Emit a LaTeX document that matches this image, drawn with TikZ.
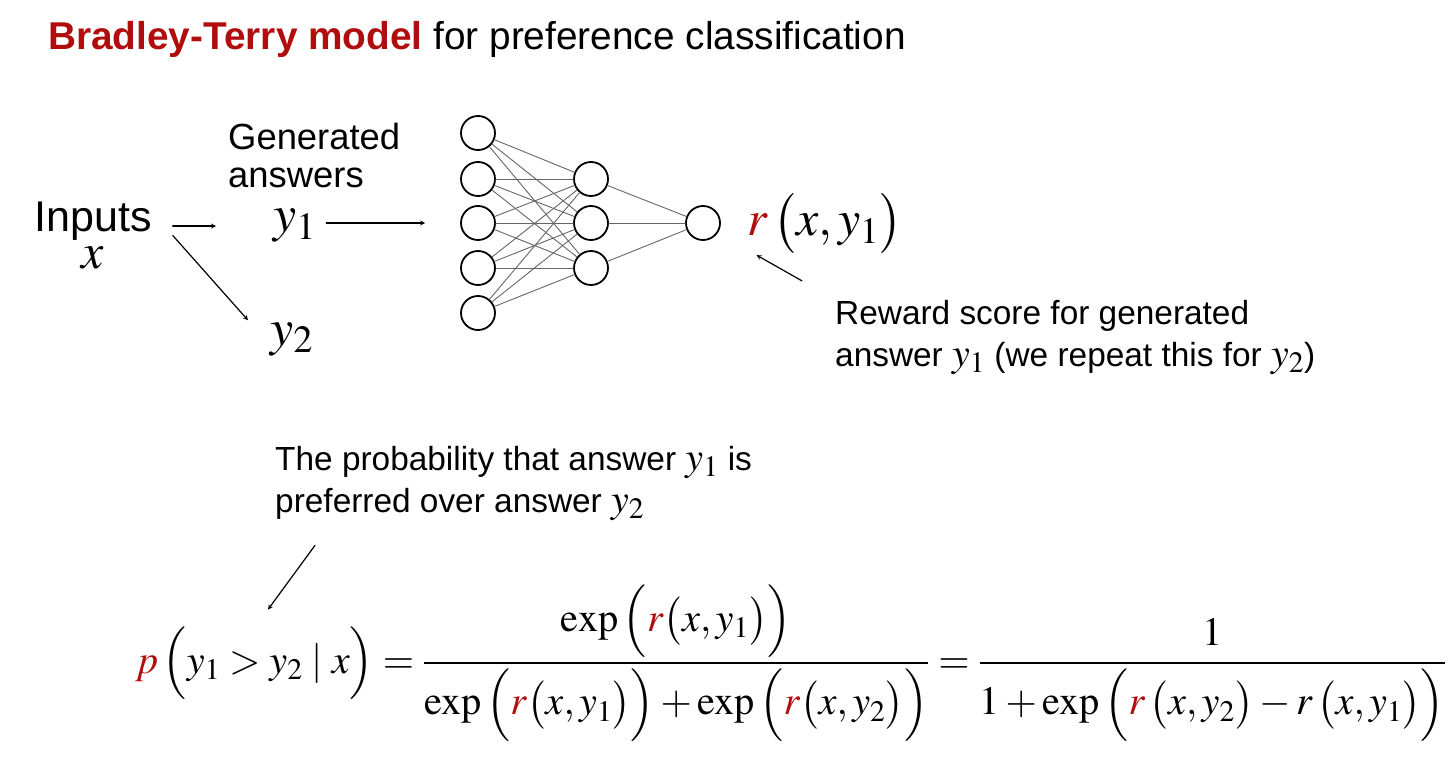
\documentclass[tikz,border=0pt]{standalone}
\usepackage{amsmath}
\usepackage{mathptmx}
\usepackage[no-math]{fontspec}
\setmainfont{Liberation Sans}
\usetikzlibrary{positioning}
\definecolor{btred}{HTML}{B00E0E}
\newcommand\yv[1]{{\fontsize{40}{40}\selectfont$y_{#1}$}}
\begin{document}
\begin{tikzpicture}[x=1pt, y=-1pt, line join=round, line cap=round, >=stealth,
		txt/.style={inner sep=0pt, align=left, font=\fontsize{33.4}{42}\selectfont},
		neuron/.style={circle, draw, line width=1.8pt, minimum size=34pt, inner sep=0pt},
		wire/.style={draw=black!60, line width=0.9pt},
		arr/.style={->, line width=1.2pt}]
	\useasboundingbox (0,0) rectangle (1456,762);
	\node[txt, anchor=base west, font=\fontsize{38.8}{44}\selectfont] (title) at (48,50)
		{\textcolor{btred}{\textbf{Bradley-Terry model}} for preference classification};
	% network
	\foreach \i/\y in {1/133,2/179,3/223,4/268,5/313}
		\node[neuron] (in\i) at (478,\y) {};
	\foreach \j/\y in {1/179,2/223,3/268}
		\node[neuron] (hid\j) at (591,\y) {};
	\node[neuron] (out) at (703,223) {};
	\foreach \i in {1,...,5}
		\foreach \j in {1,2,3}
			\draw[wire] (in\i) -- (hid\j);
	\foreach \j in {1,2,3}
		\draw[wire] (hid\j) -- (out);
	% texts (base = last line)
	\node[txt, anchor=base west, font=\fontsize{36.4}{38}\selectfont] (gen) at (228,188) {Generated\\answers};
	\node[txt, anchor=base, align=center, font=\fontsize{43}{36}\selectfont] (inputs) at (93,268)
		{Inputs\\{\fontsize{50}{36}\selectfont$x$}};
	\node[txt, anchor=base west, font=\fontsize{52}{60}\selectfont] (y1) at (273,232) {$y_1$};
	\node[txt, anchor=base west, font=\fontsize{52}{60}\selectfont] (y2) at (270,345) {$y_2$};
	\node[txt, anchor=base west, font=\fontsize{50}{60}\selectfont] (rxy) at (747,236)
		{$\textcolor{btred}{r}\,\bigl(x, y_1\bigr)$};
	\node[txt, anchor=base west] (reward) at (835,366)
		{Reward score for generated\\answer \yv1 (we repeat this for \yv2)};
	\node[txt, anchor=base west] (prob) at (275,512)
		{The probability that answer \yv1 is\\preferred over answer \yv2};
	\node[txt, anchor=base west, font=\fontsize{40.3}{50}\selectfont] (bt) at (135,673)
		{$\displaystyle \textcolor{btred}{p}\,\Bigl(y_1 > y_2 \mid x\Bigr)
		= \frac{\exp\,\Bigl(\textcolor{btred}{r}\bigl(x, y_1\bigr)\Bigr)}
		{\exp\,\Bigl(\textcolor{btred}{r}\bigl(x, y_1\bigr)\Bigr) + \exp\,\Bigl(\textcolor{btred}{r}\bigl(x, y_2\bigr)\Bigr)}
		= \frac{1}{1 + \exp\,\Bigl(\textcolor{btred}{r}\,\bigl(x, y_2\bigr) - r\,\bigl(x, y_1\bigr)\Bigr)}$};
	% arrows
	\draw[arr, shorten <=21pt, shorten >=57pt] (y1.west -| inputs.east) -- (y1.west);
	\draw[arr] ([xshift=21pt]inputs.east) -- ([xshift=-22pt,yshift=2pt]y2.north west);
	\draw[arr, shorten <=10pt, shorten >=35pt] (in3.west -| y1.east) -- (in3.west);
	\draw[arr, shorten <=38pt, shorten >=11pt] (reward.north west) -- ([yshift=4pt]rxy.south west);
	\draw[arr] ([xshift=40pt,yshift=-25pt]prob.south west) -- ([xshift=133pt,yshift=-25pt]bt.north west);
\end{tikzpicture}
\end{document}
